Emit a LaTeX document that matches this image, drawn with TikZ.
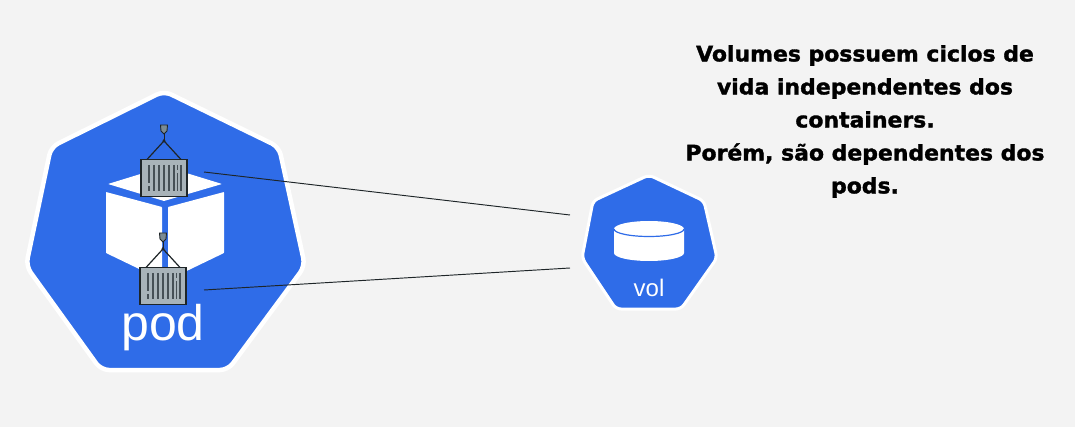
\documentclass[tikz,border=0pt]{standalone}
\usepackage{fontspec}
\setmainfont{Liberation Sans}
\newfontfamily\boldwide[FakeBold=1.6,FakeStretch=1.03]{DejaVu Sans Bold}
\definecolor{bgc}{HTML}{F3F3F3}
\definecolor{kblue}{HTML}{2F6CE8}
\definecolor{crate}{HTML}{A8B3B9}
\definecolor{dark}{HTML}{1E2528}
\definecolor{slatc}{HTML}{465056}
\definecolor{hookc}{HTML}{7B8B94}
\tikzset{
  hept/.style={fill=kblue,draw=white,line join=round,rounded corners=8pt},
  face/.style={fill=white,draw=none,rounded corners=0.6pt},
  cratebox/.style={rectangle,fill=crate,draw=dark,line width=1.2pt,minimum width=46pt,minimum height=37pt,inner sep=0pt},
  rope/.style={draw=dark,line width=1.2pt},
  link/.style={draw=dark,line width=0.95pt},
  hooktip/.style={fill=hookc,draw=dark,line width=0.9pt},
  slat/.style={draw=slatc,line width=1.5pt},
  crane/.pic={
    \draw[rope] (-17,-18.5) -- (-1,-36) -- (0,-38) -- (1,-36) -- (17,-18.5);
    \fill[dark] (0,-37) circle (1.6pt);
    \draw[rope,line width=0.9pt] (0,-44) -- (0,-38);
    \draw[hooktip] (-3.5,-53) -- (3.5,-53) -- (3,-47) -- (0,-44) -- (-3,-47) -- cycle;
    \foreach \sx in {-10,-5,0,5,10,17}{
      \draw[slat] (\sx,-13) -- (\sx,13);
    }
    \draw[slat] (-15,-13) -- (-15,5) (-15,8.5) -- (-15,13);
    \draw[slat] (13.5,-13) -- (13.5,-8) (13.5,-5) -- (13.5,13);
  }
}
\begin{document}
\begin{tikzpicture}[x=1pt,y=-1pt]
\useasboundingbox (0,0) rectangle (1075,427);
\fill[bgc] (0,0) rectangle (1075,427);

% pod heptagon
\path[hept,line width=4.5pt]
  (164,91) -- (279,147) -- (305,266) -- (228,370) -- (101,370) -- (26,266) -- (51,147) -- cycle;

% cube
\path[face] (108,184) -- (147,172) -- (183,172) -- (222,184) -- (164,201) -- cycle;
\path[face] (106,192) -- (162,207) -- (162,280) -- (106,253) -- cycle;
\path[face] (168,207) -- (224,192) -- (224,253) -- (168,280) -- cycle;

% containers
\node[cratebox] (c1) at (164,178) {};
\pic at (164,178) {crane};
\node[cratebox] (c2) at (163,286) {};
\pic at (163,286) {crane};

\node[text=white,font=\fontsize{50}{50}\selectfont,inner sep=0pt] (podlabel) at (163,328) {pod};

% volume heptagon
\path[hept,line width=3pt,rounded corners=5pt]
  (649,175) -- (704,201) -- (717,258) -- (681,309) -- (616,309) -- (582,258) -- (593,201) -- cycle;

% disk
\path[fill=white] (614,229) -- (614,253) arc[start angle=180,end angle=360,x radius=35pt,y radius=8pt] -- (684,229) arc[start angle=0,end angle=180,x radius=35pt,y radius=8pt] -- cycle;
\draw[kblue,line width=1.2pt] (614,229) arc[start angle=180,end angle=360,x radius=35pt,y radius=7.5pt];
\node[text=white,font=\fontsize{24}{24}\selectfont,inner sep=0pt] (vollabel) at (649,288) {vol};

% connectors
\coordinate (a1) at (204,172);
\coordinate (a2) at (204,290);
\coordinate (b1) at (570,215);
\coordinate (b2) at (570,268);
\draw[link] (a1) -- (b1);
\draw[link] (a2) -- (b2);

% text
\node[font=\boldwide\fontsize{21.3}{33}\selectfont,align=center,text=black,inner sep=0pt,anchor=north] (note) at (865,45)
 {Volumes possuem ciclos de\\vida independentes dos\\containers.\\Porém, são dependentes dos\\pods.};
\end{tikzpicture}
\end{document}
